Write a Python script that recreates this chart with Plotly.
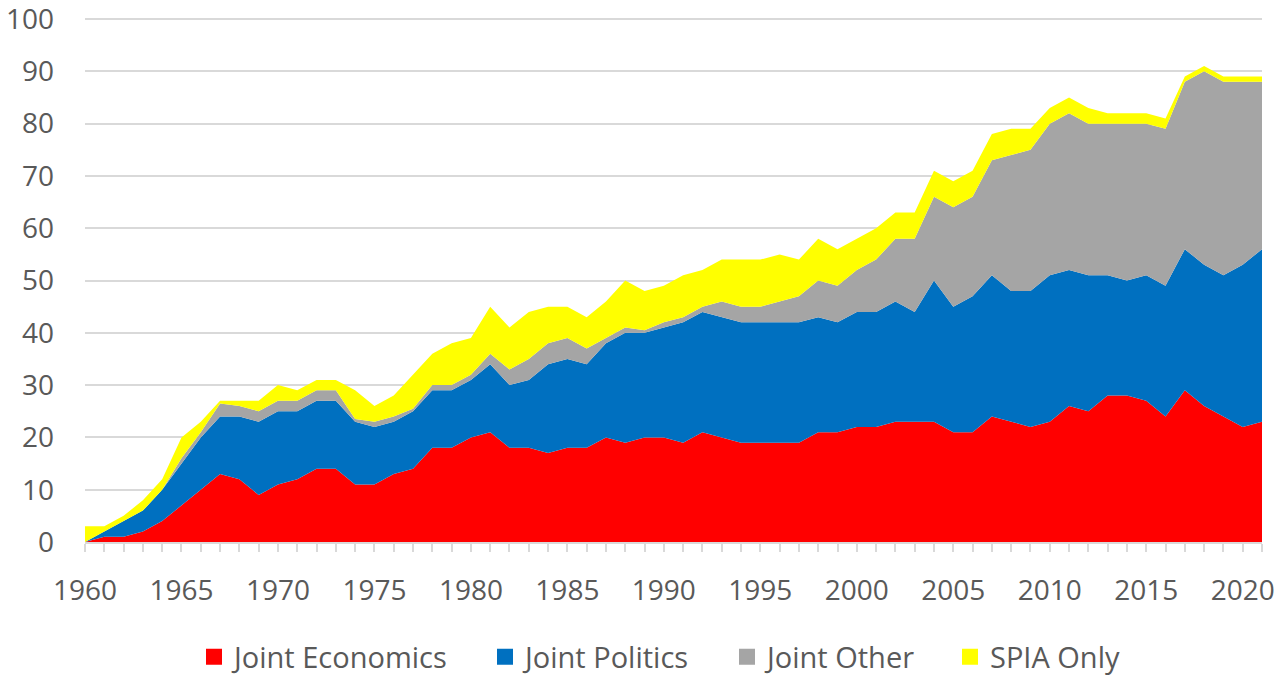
import plotly.graph_objects as go

years = list(range(1960, 2022))

joint_economics = [0, 1, 1, 2, 4, 7, 10, 13, 12, 9,
                   11, 12, 14, 14, 11, 11, 13, 14, 18, 18,
                   20, 21, 18, 18, 17, 18, 18, 20, 19, 20,
                   20, 19, 21, 20, 19, 19, 19, 19, 21, 21,
                   22, 22, 23, 23, 23, 21, 21, 24, 23, 22,
                   23, 26, 25, 28, 28, 27, 24, 29, 26, 24,
                   22, 23]
joint_politics = [0, 1, 3, 4, 6, 8, 10, 11, 12, 14,
                  14, 13, 13, 13, 12, 11, 10, 11, 11, 11,
                  11, 13, 12, 13, 17, 17, 16, 18, 21, 20,
                  21, 23, 23, 23, 23, 23, 23, 23, 22, 21,
                  22, 22, 23, 21, 27, 24, 26, 27, 25, 26,
                  28, 26, 26, 23, 22, 24, 25, 27, 27, 27,
                  31, 33]
joint_other = [0, 0, 0, 0, 0, 1, 1, 2.5, 2, 2,
               2, 2, 2, 2, 0.5, 1, 1, 0.5, 1, 1,
               1, 2, 3, 4, 4, 4, 3, 1, 1, 0.5,
               1, 1, 1, 3, 3, 3, 4, 5, 7, 7,
               8, 10, 12, 14, 16, 19, 19, 22, 26, 27,
               29, 30, 29, 29, 30, 29, 30, 32, 37, 37,
               35, 32]
spia_only = [3, 1, 1, 2, 2, 4, 2, 0.5, 1, 2,
             3, 2, 2, 2, 5.5, 3, 4, 6.5, 6, 8,
             7, 9, 8, 9, 7, 6, 6, 7, 9, 7.5,
             7, 8, 7, 8, 9, 9, 9, 7, 8, 7,
             6, 6, 5, 5, 5, 5, 5, 5, 5, 4,
             3, 3, 3, 2, 2, 2, 2, 1, 1, 1,
             1, 1]

series_names = ["Joint Economics", "Joint Politics", "Joint Other", "SPIA Only"]
series_values = [joint_economics, joint_politics, joint_other, spia_only]
series_colors = ["#FF0000", "#0070C0", "#A5A5A5", "#FFFF00"]

W, H = 1279, 677
legend_ids = ["legend", "legend2", "legend3", "legend4"]
legend_left_px = [194, 485, 727, 950]

fig = go.Figure()
for name, vals, color in zip(series_names, series_values, series_colors):
    fig.add_trace(go.Scatter(
        x=years, y=vals, name=name, mode="lines",
        stackgroup="one", line=dict(width=0, color=color),
        fillcolor=color, showlegend=False, legendgroup=name,
    ))
# legend entries with square swatches
for name, color, lid in zip(series_names, series_colors, legend_ids):
    fig.add_trace(go.Scatter(
        x=[None], y=[None], name=name, mode="markers",
        marker=dict(symbol="square", size=21, color=color),
        showlegend=True, legendgroup=name, legend=lid,
    ))

font_family = "'Open Sans', sans-serif"
grey = "#595959"

legends = {}
for lid, lx in zip(legend_ids, legend_left_px):
    legends[lid] = dict(
        orientation="h", xref="container", yref="container",
        x=lx / W, xanchor="left", y=1 - 657 / H, yanchor="middle",
        font=dict(size=29, color=grey, family=font_family),
        itemwidth=30, bgcolor="rgba(0,0,0,0)",
    )

fig.update_layout(
    width=W, height=H,
    margin=dict(l=85, r=17, t=18, b=135, autoexpand=False),
    paper_bgcolor="white", plot_bgcolor="white",
    font=dict(family=font_family, size=28, color=grey),
    showlegend=True,
    xaxis=dict(
        range=[1960, 2021], tickmode="linear", tick0=1960, dtick=5,
        showgrid=False, zeroline=False,
        showline=True, linecolor="#D9D9D9", linewidth=2,
        ticks="outside", ticklen=8, tickwidth=2, tickcolor="#D9D9D9",
        minor=dict(dtick=1, tick0=1960, ticks="outside", ticklen=8,
                   tickwidth=2, tickcolor="#D9D9D9", showgrid=False),
        tickfont=dict(size=28, color=grey),
        ticklabelstandoff=14, ticklabeloverflow="allow",
    ),
    yaxis=dict(
        range=[0, 100.2], tickmode="linear", tick0=0, dtick=10,
        showgrid=True, gridcolor="#D9D9D9", gridwidth=2,
        zeroline=False, showline=False,
        tickfont=dict(size=28, color=grey),
        ticklabelstandoff=30, ticklabeloverflow="allow",
    ),
    **legends,
)

fig.write_html("out.html",
               config={"displayModeBar": False},
               post_script="document.body.style.margin='0';document.body.style.overflow='hidden';")
